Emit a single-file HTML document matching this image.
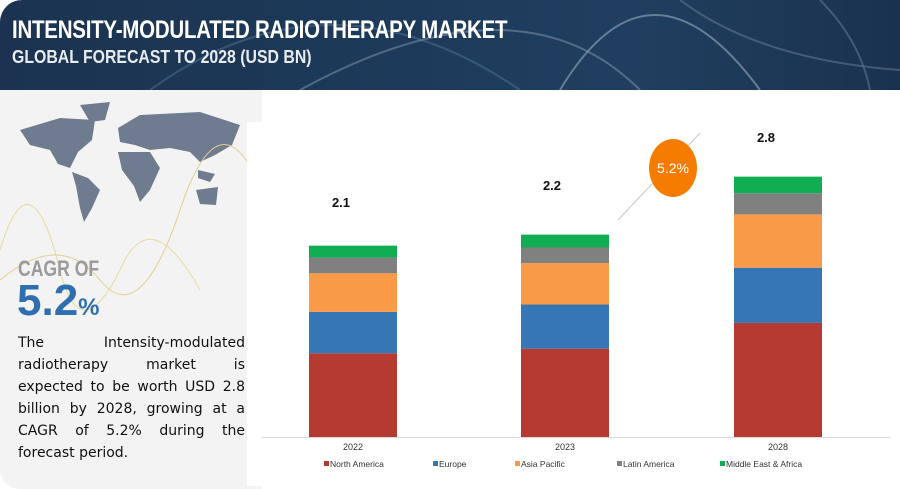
<!DOCTYPE html>
<html><head><meta charset="utf-8"><style>
body{margin:0;width:900px;height:489px;overflow:hidden;background:#fff;font-family:"Liberation Sans",sans-serif;position:relative}
#hdr{position:absolute;left:0;top:0;width:900px;height:90px;border-top-left-radius:22px;background:linear-gradient(90deg,#1b3350 0%,#1d3a5a 45%,#203f60 70%,#1a324e 100%);overflow:hidden}
#t1{position:absolute;left:12px;top:16px;color:#fff;font-size:25px;font-weight:bold;transform:scaleX(0.82);transform-origin:left;letter-spacing:-0.3px;white-space:nowrap}
#t2{position:absolute;left:12px;top:47px;color:#e8ecf0;font-size:18px;font-weight:bold;transform:scaleX(0.88);transform-origin:left;white-space:nowrap}
#left{position:absolute;left:0;top:90px;width:262px;height:399px;background:#f3f3f3;border-bottom-left-radius:20px}
#card{position:absolute;left:247px;top:122px;width:653px;height:364px;background:#fff}
#cagr{position:absolute;left:18px;top:256px;color:#9a9a9a;font-size:22px;font-weight:bold;transform:scaleX(0.8);transform-origin:left}
#big{position:absolute;left:17px;top:276px;color:#2f6fb0;font-size:44px;font-weight:bold;}
#big span{font-size:24px}
#desc{position:absolute;left:18px;top:332px;width:227px;font-family:"DejaVu Sans",sans-serif;font-size:14px;line-height:22px;color:#111}
#desc div{text-align:justify;text-align-last:justify;white-space:nowrap}
#desc div.last{text-align-last:left}
</style></head><body>
<div id="hdr">
<svg width="900" height="90" style="position:absolute;left:0;top:0">
<path d="M150 90 Q330 -40 520 90" stroke="#4a6a8a" stroke-width="2" fill="none" opacity=".6"/>
<path d="M300 90 Q520 -30 640 90" stroke="#8a9ab0" stroke-width="2" fill="none" opacity=".5"/>
<path d="M560 90 Q650 -60 760 90" stroke="#9aa9bd" stroke-width="2" fill="none" opacity=".6"/>
<path d="M680 0 Q760 60 900 70" stroke="#6c819b" stroke-width="2" fill="none" opacity=".5"/>
<path d="M820 0 Q860 40 870 90" stroke="#6c819b" stroke-width="2" fill="none" opacity=".5"/>
</svg>
<div id="t1">INTENSITY-MODULATED RADIOTHERAPY MARKET</div>
<div id="t2">GLOBAL FORECAST TO 2028 (USD BN)</div>
</div>
<div id="left">
<svg width="262" height="399" style="position:absolute;left:0;top:0">
<g fill="#6f7b8f">
<path d="M20 40 L60 28 L95 30 L92 50 L78 62 L70 78 L58 74 L50 60 L30 55 Z"/>
<path d="M80 15 L110 12 L105 30 L90 32 Z"/>
<path d="M72 82 L88 88 L100 100 L92 118 L84 132 L80 118 L76 96 Z"/>
<path d="M118 38 L140 25 L200 22 L240 35 L232 55 L215 65 L200 72 L190 62 L170 58 L150 60 L135 55 L120 52 Z"/>
<path d="M118 62 L150 62 L160 78 L150 100 L140 112 L134 96 L122 80 Z"/>
<path d="M196 100 L218 97 L216 115 L200 114 Z"/>
<path d="M198 80 L215 84 L210 92 L198 88 Z"/>
</g>
<path d="M0 190 Q60 140 100 190 T180 120 T262 100" stroke="#e2cf8c" fill="none" stroke-width="1"/>
<path d="M0 160 Q30 60 60 180 Q80 260 120 180 Q150 110 200 200" stroke="#e8d9a3" fill="none" stroke-width="1"/>
</svg>
</div>
<div id="card"></div>
<div id="cagr">CAGR OF</div>
<div id="big">5.2<span>%</span></div>
<div id="desc">
<div>The Intensity-modulated</div>
<div>radiotherapy market is</div>
<div>expected to be worth USD 2.8</div>
<div>billion by 2028, growing at a</div>
<div>CAGR of 5.2% during the</div>
<div class="last">forecast period.</div>
</div>
<svg id="chart" width="900" height="489" style="position:absolute;left:0;top:0"></svg>
<script>
const years=["2022","2023","2028"];
const northAmerica=[0.91,0.96,1.24];
const europe=[0.45,0.48,0.60];
const asiaPacific=[0.42,0.45,0.58];
const latinAmerica=[0.17,0.17,0.23];
const middleEastAfrica=[0.13,0.14,0.18];
const totals=["2.1","2.2","2.8"];
const seriesNames=["North America","Europe","Asia Pacific","Latin America","Middle East & Africa"];
const seriesColors=["#b53a32","#3776b4","#f89a47","#808080","#10ad52"];
const series=[northAmerica,europe,asiaPacific,latinAmerica,middleEastAfrica];
const NS="http://www.w3.org/2000/svg";
const svg=document.getElementById('chart');
const baseY=437,pxPerUnit=92,barW=88;
const xC=i=>[353,565,778][i];
const y=v=>baseY-v*pxPerUnit;
function mk(t,a){const e=document.createElementNS(NS,t);for(const k in a)e.setAttribute(k,a[k]);svg.appendChild(e);return e;}
const ax=mk('line',{x1:262,x2:890,y1:baseY+0.5,y2:baseY+0.5,stroke:'#d9d9d9'});


years.forEach((yr,i)=>{
  let cum=0;
  series.forEach((s,j)=>{
    const r=mk('rect',{x:xC(i)-barW/2,y:y(cum+s[i]),width:barW,height:s[i]*pxPerUnit,fill:seriesColors[j]});
    
    
    cum+=s[i];
  });
  const lb=mk('text',{x:xC(i),y:baseY+13,'font-size':9,'text-anchor':'middle',fill:'#333'});
  lb.textContent=yr;
  
  
});
const totPos=[[341,207],[552,190],[766,142]];
totals.forEach((t,i)=>{
  const e=mk('text',{x:totPos[i][0],y:totPos[i][1],'font-size':13,'font-weight':'bold','text-anchor':'middle',fill:'#111'});
  e.textContent=t;
  
  
});
const arr=mk('line',{x1:618,y1:220,x2:700,y2:133,stroke:'#c8c8c8','stroke-width':1});


const c=mk('ellipse',{cx:673,cy:168,rx:24,ry:29,fill:'#f57c00'});


const ct=mk('text',{x:673,y:173,'font-size':14,'text-anchor':'middle',fill:'#fff'});
ct.textContent='5.2%';


const lx=[324,433,515,617,720];
seriesNames.forEach((n,j)=>{
  const r=mk('rect',{x:lx[j],y:461,width:5,height:5,fill:seriesColors[j]});
  
  
  const t=mk('text',{x:lx[j]+6,y:467,'font-size':8.5,fill:'#333'});
  t.textContent=n;
  
  
});
</script>
</body></html>
